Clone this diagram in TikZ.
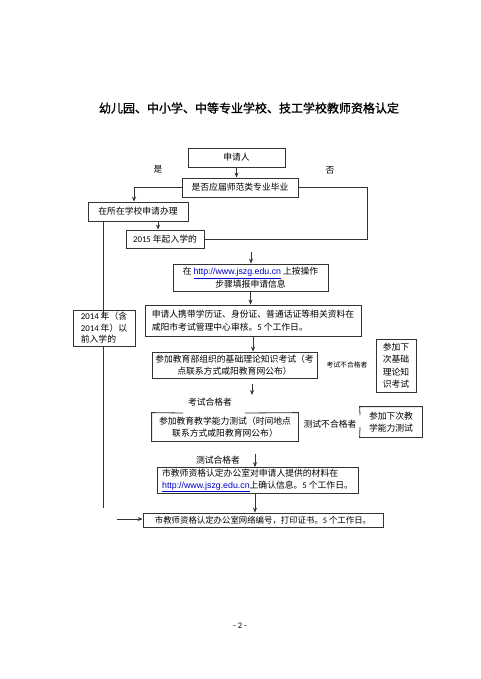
\documentclass[tikz,border=0pt]{standalone}
\usepackage{fontspec}
\setmainfont{Noto Sans CJK SC}
\newfontfamily\lat{Carlito}
\newfontfamily\urlf{Liberation Sans}
\newfontfamily\titlef[FakeBold=1.2]{Noto Sans CJK SC}
\usetikzlibrary{arrows.meta}
\newcommand{\web}{{\urlf\color{blue!80!black}\underline{http://www.jszg.edu.cn}}}
\begin{document}
\begin{tikzpicture}[x=1pt,y=-1pt,
  box/.style={draw=black!80, line width=0.8pt, inner sep=0pt, align=center,
              font=\fontsize{8.8}{12.5}\selectfont},
  ln/.style={draw=black!80, line width=0.8pt},
  arr/.style={ln, -{Stealth[length=5pt,width=4pt]}},
  lbl/.style={inner sep=0pt, font=\fontsize{8.8}{11}\selectfont},
  small/.style={inner sep=0pt, font=\fontsize{6.8}{8}\selectfont}]
\useasboundingbox[fill=white] (0,0) rectangle (480,679);

\node[inner sep=0pt, font=\titlef\fontsize{12}{14}\selectfont] (title) at (249,108)
  {幼儿园、中小学、中等专业学校、技工学校教师资格认定};

\node[box, minimum width=97pt, minimum height=19pt] (n1) at (236.5,157.5) {申请人};
\node[box, minimum width=116pt, minimum height=19pt] (n2) at (240,187.5) {是否应届师范类专业毕业};
\node[box, minimum width=100pt, minimum height=19pt] (n3) at (138,211.5) {在所在学校申请办理};
\node[box, minimum width=78pt, minimum height=18pt] (n4) at (165,239) {{\lat 2015} 年起入学的};
\node[box, minimum width=155pt, minimum height=27pt] (n5) at (250.5,277.5)
  {在 \web{} 上按操作\\步骤填报申请信息};
\node[box, minimum width=216pt, minimum height=31pt, align=left] (n6) at (253,320.5)
  {申请人携带学历证、身份证、普通话证等相关资料在\\咸阳市考试管理中心审核。{\lat 5} 个工作日。};
\node[box, minimum width=165pt, minimum height=26pt] (n7) at (234.5,365)
  {参加教育部组织的基础理论知识考试（考\\点联系方式咸阳教育网公布）};
\node[box, minimum width=40pt, minimum height=53pt] (n8) at (396,365.5)
  {参加下\\次基础\\理论知\\识考试};
\node[box, draw=none, minimum width=146pt, minimum height=28pt] (n9) at (225,427)
  {参加教育教学能力测试（时间地点\\联系方式咸阳教育网公布）};
\node[box, draw=none, minimum width=62pt, minimum height=30pt] (n10) at (391,422)
  {参加下次教\\学能力测试};
\node[box, minimum width=201pt, minimum height=26pt, align=left, font=\fontsize{8.8}{11.8}\selectfont] (n11) at (257.5,480.5)
  {市教师资格认定办公室对申请人提供的材料在\\\web{}上确认信息。{\lat 5} 个工作日。};
\node[box, minimum width=240pt, minimum height=14pt, font=\fontsize{8.4}{10}\selectfont] (n12) at (263,520)
  {市教师资格认定办公室网络编号，打印证书。{\lat 5} 个工作日。};
\node[box, minimum width=62pt, minimum height=36pt, align=left, font=\fontsize{8.8}{11.5}\selectfont] (n13) at (104,328)
  {{\lat 2014} 年（含\\{\lat 2014} 年）以\\前入学的};

% broken borders
\draw[ln] (183,413) -- (n9.north west) -- (n9.south west) -- (n9.south east) -- (n9.north east) -- (245,413);
\draw[ln] (360,415) -- (n10.north west) -- (n10.north east) -- (n10.south east) -- (n10.south west) -- (360,427);

% labels
\node[lbl] (yes) at (158,169) {是};
\node[lbl] (no) at (330,170) {否};
\node[small] (f1) at (347,365) {考试不合格者};
\node[lbl] (p1) at (210,402) {考试合格者};
\node[lbl] (f2) at (330,424) {测试不合格者};
\node[lbl] (p2) at (218,460) {测试合格者};
\node[inner sep=0pt, font=\lat\fontsize{8.5}{10}\selectfont] (page) at (240,626) {- 2 -};

% connectors
\draw[arr] (n1.south) -- (n1.south |- n2.north);
\coordinate (c1) at (134,187.5);
\draw[arr] (n2.west) -- (c1) -- (c1 |- n3.north);
\coordinate (c2) at (367,239);
\draw[ln] (n2.east) -| (c2) -- (n4.east);
\coordinate (c9) at (158,221);
\draw[arr] (c9) -- (c9 |- n4.north);
\coordinate (c0) at (103,221);
\coordinate (c10) at (103,317);
\draw[ln] (c0) -- (c10);
\coordinate (c3) at (103,508);
\draw[ln] (n13.south -| c0) -- (c3);
\coordinate (c4) at (117,519);
\draw[arr] (c4) -- (c4 -| n12.west);
\coordinate (c5) at (251,252);
\draw[arr] (c5) -- (c5 |- n5.north);
\draw[arr] (n5.south) -- (n5.south |- n6.north);
\draw[arr] (n6.south) -- (n6.south |- n7.north);
\coordinate (c6) at (252,384);
\coordinate (c7) at (252,395);
\draw[arr] (c6) -- (c7);
\coordinate (c8) at (255,454);
\draw[arr] (c8) -- (c8 |- n11.north);
\draw[arr] (n11.south -| c8) -- (c8 |- n12.north);
\end{tikzpicture}
\end{document}
